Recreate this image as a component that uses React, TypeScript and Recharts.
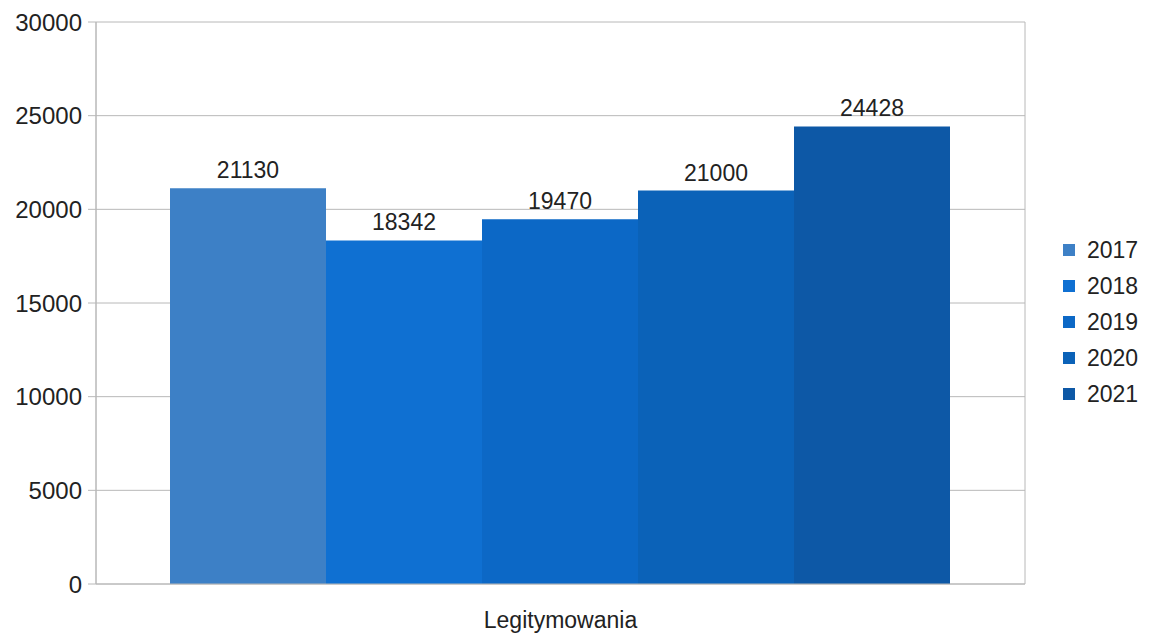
import { Bar, BarChart, CartesianGrid, LabelList, Legend, XAxis, YAxis } from "recharts"

const categories = ["Legitymowania"]
const years = ["2017", "2018", "2019", "2020", "2021"]
const values = [21130, 18342, 19470, 21000, 24428]
const colors = ["#3d80c6", "#0f70d2", "#0c68c6", "#0b62b8", "#0d58a6"]
const yTicks = [0, 5000, 10000, 15000, 20000, 25000, 30000]

const FONT = "'Liberation Sans', Arial, sans-serif"
const TEXT = "#222222"
const GRID = "#b8b8b8"

// one row per category, one column per year
const chartData = categories.map((name) => {
  const row: Record<string, string | number> = { name }
  years.forEach((y, i) => {
    row[y] = values[i]
  })
  return row
})

function YearLegend() {
  return (
    <div style={{ fontFamily: FONT, fontSize: 23, color: TEXT }}>
      {years.map((y, i) => (
        <div key={y} style={{ display: "flex", alignItems: "center", height: 36 }}>
          <span style={{ display: "inline-block", width: 12, height: 12, background: colors[i], marginRight: 12 }} />
          <span>{y}</span>
        </div>
      ))}
    </div>
  )
}

export default function App() {
  return (
    <div style={{ width: 1151, height: 634, background: "#fff" }}>
      <style>{"body{margin:0;background:#fff}"}</style>
      <BarChart
        width={1151}
        height={634}
        data={chartData}
        margin={{ top: 22, right: 36, left: 0, bottom: 10 }}
        barGap={0}
        barCategoryGap={74}
      >
        <CartesianGrid
          stroke={GRID}
          horizontal={true}
          verticalCoordinatesGenerator={({ offset }: any) => [offset.left, offset.left + offset.width]}
        />
        <XAxis
          dataKey="name"
          height={40}
          axisLine={{ stroke: GRID }}
          tickLine={false}
          tickMargin={22}
          tick={{ fill: TEXT, fontSize: 23, fontFamily: FONT }}
        />
        <YAxis
          width={96}
          domain={[0, 30000]}
          ticks={yTicks}
          interval={0}
          axisLine={{ stroke: GRID }}
          tickLine={{ stroke: GRID }}
          tickSize={8}
          tickMargin={6}
          tick={{ fill: TEXT, fontSize: 24, fontFamily: FONT }}
        />
        <Legend
          layout="vertical"
          align="right"
          verticalAlign="middle"
          content={<YearLegend />}
          wrapperStyle={{ width: 90, left: 1063, top: 232 }}
        />
        {years.map((y, i) => (
          <Bar key={y} dataKey={y} fill={colors[i]} isAnimationActive={false}>
            <LabelList dataKey={y} position="top" offset={10} fill={TEXT} fontSize={23} fontFamily={FONT} />
          </Bar>
        ))}
      </BarChart>
    </div>
  )
}
